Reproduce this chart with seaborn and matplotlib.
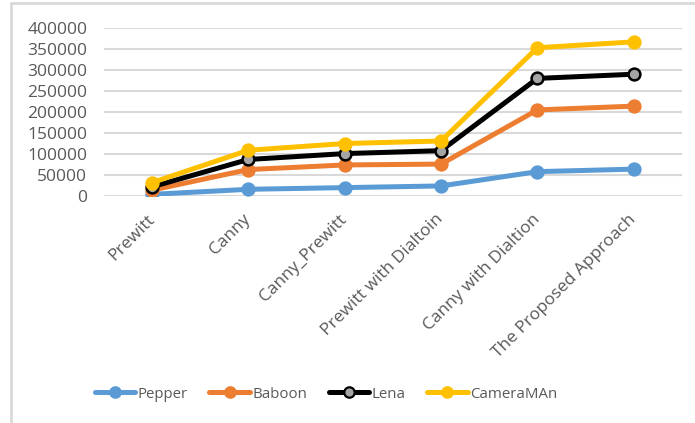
import matplotlib
matplotlib.use("Agg")
import matplotlib.pyplot as plt
import seaborn as sns
import pandas as pd
from matplotlib.lines import Line2D

categories = ["Prewitt", "Canny", "Canny_Prewitt", "Prewitt with Dialtoin",
              "Canny with Dialtion", "The Proposed Approach"]
pepper = [4000, 16000, 20000, 24000, 58000, 64000]
baboon = [14000, 63000, 74000, 76000, 205000, 214000]
lena = [22000, 87000, 101000, 108000, 280000, 290000]
cameraman = [32000, 109000, 125000, 131000, 353000, 367000]
y_ticks = [0, 50000, 100000, 150000, 200000, 250000, 300000, 350000, 400000]

series = {"Pepper": pepper, "Baboon": baboon, "Lena": lena, "CameraMAn": cameraman}
colors = {"Pepper": "#5B9BD5", "Baboon": "#ED7D31", "Lena": "#000000", "CameraMAn": "#FFC000"}
faces = {"Pepper": "#5B9BD5", "Baboon": "#ED7D31", "Lena": "#A5A5A5", "CameraMAn": "#FFC000"}

sns.set_style("white")
plt.rcParams["font.family"] = ["Open Sans", "DejaVu Sans"]
text_color = "#595959"

fig = plt.figure(figsize=(6.95, 4.23), dpi=100)
ax = fig.add_axes([0.1496, 0.5366, 0.8314, 0.3972])

for name, vals in series.items():
    df = pd.DataFrame({"method": categories, "value": vals})
    sns.lineplot(data=df, x="method", y="value", ax=ax, color=colors[name],
                 linewidth=3.6, marker="o", markersize=8.5,
                 markerfacecolor=faces[name], markeredgecolor=colors[name],
                 markeredgewidth=1.8, sort=False, label=name, legend=False)

ax.set_xlim(-0.5, 5.5)
ax.set_ylim(0, 400000)
ax.set_yticks(y_ticks)
ax.set_yticklabels([str(v) for v in y_ticks])
ax.yaxis.grid(True, color="#D9D9D9", linewidth=1.5)
ax.set_axisbelow(True)
for s in ax.spines.values():
    s.set_visible(False)
ax.set_xlabel("")
ax.set_ylabel("")
ax.tick_params(axis="y", length=0, pad=12, labelsize=12.5, labelcolor=text_color)
ax.tick_params(axis="x", length=0, pad=15, labelsize=12.5, labelcolor=text_color)
plt.setp(ax.get_xticklabels(), rotation=45, ha="right", va="center",
         rotation_mode="anchor")

handles = [Line2D([0], [0], color=colors[n], linewidth=3.6, marker="o", markersize=7.5,
                  markerfacecolor=faces[n], markeredgecolor=colors[n],
                  markeredgewidth=1.6) for n in series]
leg = fig.legend(handles, list(series.keys()), loc="center", ncol=4,
                 bbox_to_anchor=(0.469, 0.068), frameon=False, fontsize=10.8,
                 handlelength=2.7, handletextpad=0.15, columnspacing=1.45)
for t in leg.get_texts():
    t.set_color(text_color)

# chart area border
border_color = "#D9D9D9"
fig.add_artist(Line2D([11 / 695, 11 / 695], [0, 1 - 3 / 423], transform=fig.transFigure,
                      color=border_color, linewidth=2))
fig.add_artist(Line2D([11 / 695, 1], [1 - 3 / 423, 1 - 3 / 423], transform=fig.transFigure,
                      color=border_color, linewidth=2))

fig.savefig("out.png", dpi=100)
